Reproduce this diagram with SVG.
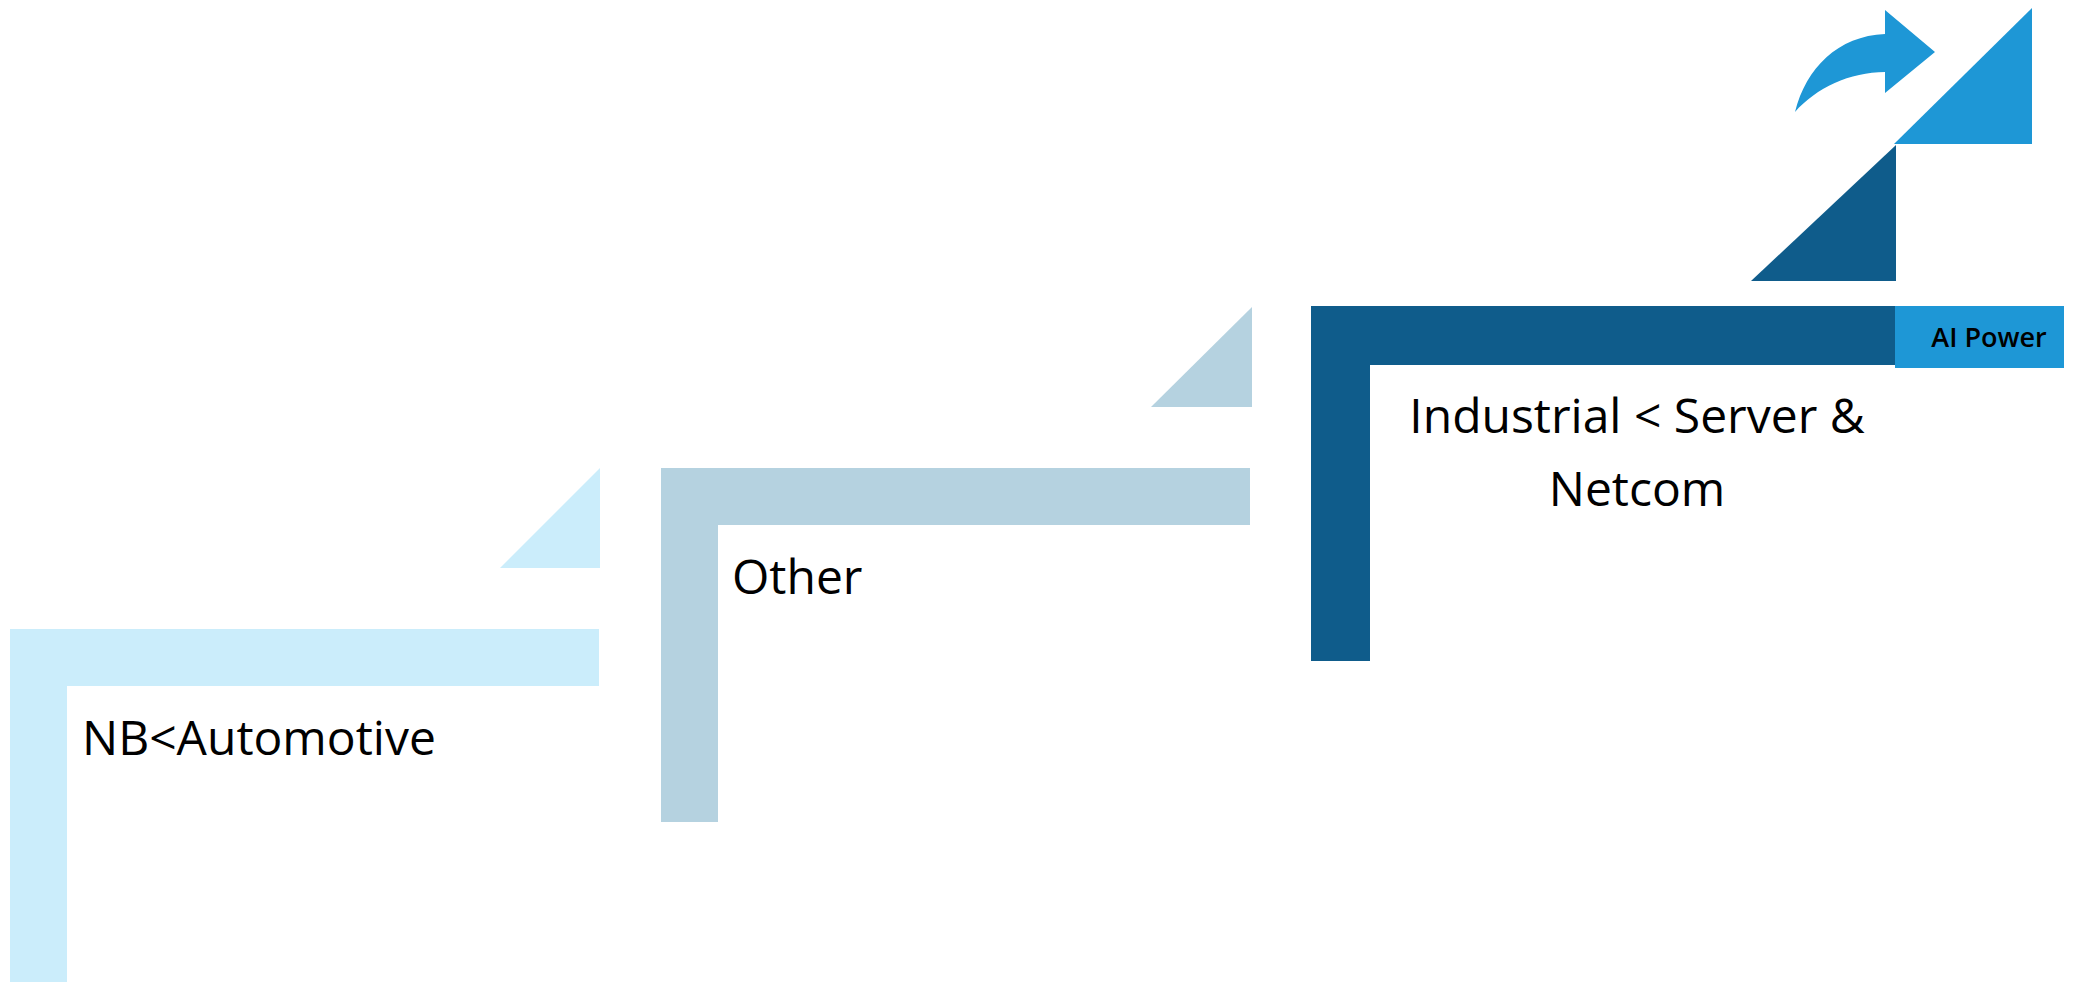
<svg xmlns="http://www.w3.org/2000/svg" width="2076" height="982" viewBox="0 0 2076 982">
  <style>
    .lbl { font-family: "Open Sans", "Noto Sans", "Liberation Sans", sans-serif; font-size: 48px; fill: #000000; }
    .tag { font-family: "Open Sans", "Noto Sans", "Liberation Sans", sans-serif; font-size: 27px; font-weight: 600; fill: #000000; }
    .c1 { fill: #CBEDFB; }
    .c2 { fill: #B5D2E0; }
    .c3 { fill: #0F5C8B; }
    .c4 { fill: #1E97D6; }
  </style>
  <rect x="0" y="0" width="2076" height="982" fill="#FFFFFF"/>

  <g id="step-nb-automotive">
    <path class="c1" d="M10,629 H599 V686 H67 V982 H10 Z"/>
    <polygon class="c1" points="500,568 600,468 600,568"/>
    <text class="lbl" x="82" y="755">NB&lt;Automotive</text>
  </g>

  <g id="step-other">
    <path class="c2" d="M661,468 H1250 V525 H718 V822 H661 Z"/>
    <polygon class="c2" points="1151,407 1252,307 1252,407"/>
    <text class="lbl" x="732" y="594">Other</text>
  </g>

  <g id="step-industrial">
    <path class="c3" d="M1311,306 H1895 V365 H1370 V661 H1311 Z"/>
    <polygon class="c3" points="1751,281 1896,145 1896,281"/>
    <text class="lbl" x="1637" y="433" text-anchor="middle">Industrial &lt; Server &amp;</text>
    <text class="lbl" x="1637" y="506" text-anchor="middle">Netcom</text>
  </g>

  <g id="ai-power">
    <rect class="c4" x="1895" y="306" width="169" height="62"/>
    <polygon class="c4" points="1894,144 2032,8 2032,144"/>
    <text class="tag" x="1989" y="347" text-anchor="middle">AI Power</text>
  </g>

  <g id="growth-arrow">
    <path class="c4" d="M1795,112 C1806,68 1838,36 1885,34 V10 L1935,52 L1885,93 V72 C1850,72 1816,88 1795,112 Z"/>
  </g>
</svg>
